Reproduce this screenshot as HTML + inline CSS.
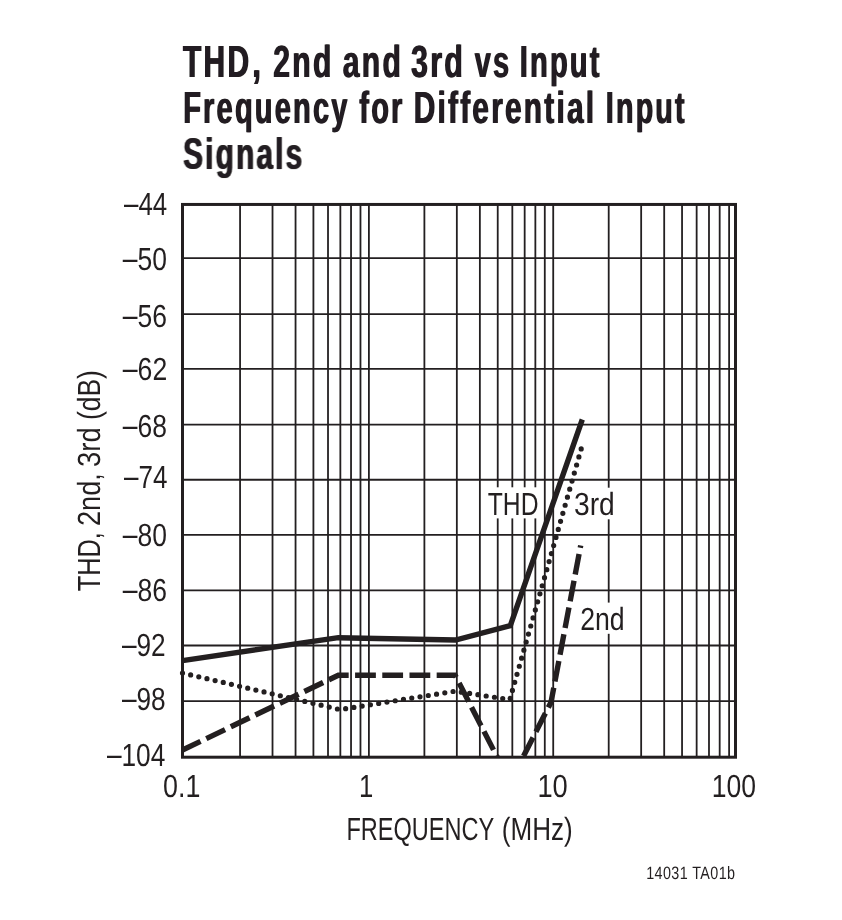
<!DOCTYPE html>
<html lang="en"><head><meta charset="utf-8"><title>THD, 2nd and 3rd vs Input Frequency for Differential Input Signals</title>
<style>html,body{margin:0;padding:0;background:#fff}svg{display:block}text{font-family:"Liberation Sans", sans-serif;fill:#231f20;white-space:pre}</style></head><body>
<svg width="842" height="920" viewBox="0 0 842 920">
<rect width="842" height="920" fill="#fff"/>
<g stroke="#231f20" stroke-width="1.8" fill="none">
<line x1="240.07" y1="204.45" x2="240.07" y2="757.2"/>
<line x1="272.52" y1="204.45" x2="272.52" y2="757.2"/>
<line x1="295.55" y1="204.45" x2="295.55" y2="757.2"/>
<line x1="313.41" y1="204.45" x2="313.41" y2="757.2"/>
<line x1="328.01" y1="204.45" x2="328.01" y2="757.2"/>
<line x1="340.35" y1="204.45" x2="340.35" y2="757.2"/>
<line x1="351.04" y1="204.45" x2="351.04" y2="757.2"/>
<line x1="360.47" y1="204.45" x2="360.47" y2="757.2"/>
<line x1="368.90" y1="204.45" x2="368.90" y2="757.2"/>
<line x1="424.39" y1="204.45" x2="424.39" y2="757.2"/>
<line x1="456.84" y1="204.45" x2="456.84" y2="757.2"/>
<line x1="479.87" y1="204.45" x2="479.87" y2="757.2"/>
<line x1="497.73" y1="204.45" x2="497.73" y2="757.2"/>
<line x1="512.33" y1="204.45" x2="512.33" y2="757.2"/>
<line x1="524.67" y1="204.45" x2="524.67" y2="757.2"/>
<line x1="535.36" y1="204.45" x2="535.36" y2="757.2"/>
<line x1="544.79" y1="204.45" x2="544.79" y2="757.2"/>
<line x1="553.22" y1="204.45" x2="553.22" y2="757.2"/>
<line x1="608.71" y1="204.45" x2="608.71" y2="757.2"/>
<line x1="641.16" y1="204.45" x2="641.16" y2="757.2"/>
<line x1="664.19" y1="204.45" x2="664.19" y2="757.2"/>
<line x1="682.05" y1="204.45" x2="682.05" y2="757.2"/>
<line x1="696.65" y1="204.45" x2="696.65" y2="757.2"/>
<line x1="708.99" y1="204.45" x2="708.99" y2="757.2"/>
<line x1="719.68" y1="204.45" x2="719.68" y2="757.2"/>
<line x1="729.11" y1="204.45" x2="729.11" y2="757.2"/>
<line x1="182.5" y1="258.18" x2="735.5" y2="258.18"/>
<line x1="182.5" y1="314.10" x2="735.5" y2="314.10"/>
<line x1="182.5" y1="368.94" x2="735.5" y2="368.94"/>
<line x1="182.5" y1="424.53" x2="735.5" y2="424.53"/>
<line x1="182.5" y1="479.73" x2="735.5" y2="479.73"/>
<line x1="182.5" y1="534.92" x2="735.5" y2="534.92"/>
<line x1="182.5" y1="590.38" x2="735.5" y2="590.38"/>
<line x1="182.5" y1="645.50" x2="735.5" y2="645.50"/>
<line x1="182.5" y1="701.08" x2="735.5" y2="701.08"/>
</g>
<g fill="#fff">
<rect x="486" y="487.3" width="54.5" height="31.1"/>
<rect x="573" y="487.7" width="42" height="31.6"/>
<rect x="579" y="602.6" width="47" height="31.2"/>
</g>
<rect x="182.5" y="204.45" width="553.0" height="552.75" fill="none" stroke="#231f20" stroke-width="3"/>
<clipPath id="c"><rect x="178" y="203" width="562" height="554"/></clipPath>
<g clip-path="url(#c)" fill="none" stroke="#231f20" stroke-linejoin="miter">
<polyline points="182.50,660.55 338.30,637.70 455.50,640.00 510.30,625.65 582.30,419.50" stroke-width="5.4"/>
<polyline points="182.50,673.00 340.00,709.60 455.00,691.20 509.80,699.60 581.30,448.50" stroke-width="5.2" stroke-linecap="round" stroke-dasharray="0 8.37"/>
<polyline points="182.50,750.00 338.30,675.20 455.10,675.20 508.00,778.10 512.30,778.10 551.00,702.30 580.70,545.50" stroke-width="5.4" stroke-dasharray="20.8 6.4" stroke-dashoffset="0.8"/>
</g>
<defs><filter id="fb" x="-2%" y="-10%" width="104%" height="120%"><feOffset in="SourceGraphic" dx="1" dy="0" result="a"/><feMerge><feMergeNode in="a"/><feMergeNode in="SourceGraphic"/></feMerge></filter></defs>
<g filter="url(#fb)">
<text transform="translate(182.55,77.00) rotate(0.03) scale(0.6656,1)" font-size="45" font-weight="bold" letter-spacing="3.4">THD</text>
<text transform="translate(251.73,77.00) rotate(0.03) scale(0.7000,1)" font-size="45" font-weight="bold" letter-spacing="3.4">, </text>
<text transform="translate(272.75,77.00) rotate(0.03) scale(0.6689,1)" font-size="45" font-weight="bold" letter-spacing="3.4">2nd </text>
<text transform="translate(342.35,77.00) rotate(0.03) scale(0.6678,1)" font-size="45" font-weight="bold" letter-spacing="3.4">and </text>
<text transform="translate(410.50,77.00) rotate(0.03) scale(0.6758,1)" font-size="45" font-weight="bold" letter-spacing="3.4">3rd </text>
<text transform="translate(474.35,77.00) rotate(0.03) scale(0.6421,1)" font-size="45" font-weight="bold" letter-spacing="3.4">vs </text>
<text transform="translate(519.16,77.00) rotate(0.03) scale(0.6467,1)" font-size="45" font-weight="bold" letter-spacing="3.4">Input </text>
<text transform="translate(182.65,123.00) rotate(0.03) scale(0.6453,1)" font-size="45" font-weight="bold" letter-spacing="3.4">Frequency </text>
<text transform="translate(358.78,123.00) rotate(0.03) scale(0.6446,1)" font-size="45" font-weight="bold" letter-spacing="3.4">for </text>
<text transform="translate(413.16,123.00) rotate(0.03) scale(0.6627,1)" font-size="45" font-weight="bold" letter-spacing="3.4">Differential </text>
<text transform="translate(605.37,123.00) rotate(0.03) scale(0.6361,1)" font-size="45" font-weight="bold" letter-spacing="3.4">Input </text>
<text transform="translate(182.65,169.00) rotate(0.03) scale(0.6601,1)" font-size="45" font-weight="bold" letter-spacing="3.4">Signals </text>
</g>
<text transform="translate(124.00,215.00) rotate(0.03) scale(0.8096,1)" font-size="32"><tspan dy="-1.2">–</tspan><tspan dy="1.2">44</tspan></text>
<text transform="translate(122.80,270.00) rotate(0.03) scale(0.8266,1)" font-size="32"><tspan dy="-1.2">–</tspan><tspan dy="1.2">50</tspan></text>
<text transform="translate(122.80,327.00) rotate(0.03) scale(0.8280,1)" font-size="32"><tspan dy="-1.2">–</tspan><tspan dy="1.2">56</tspan></text>
<text transform="translate(122.80,380.00) rotate(0.03) scale(0.8315,1)" font-size="32"><tspan dy="-1.2">–</tspan><tspan dy="1.2">62</tspan></text>
<text transform="translate(122.80,437.00) rotate(0.03) scale(0.8272,1)" font-size="32"><tspan dy="-1.2">–</tspan><tspan dy="1.2">68</tspan></text>
<text transform="translate(124.00,488.00) rotate(0.03) scale(0.8135,1)" font-size="32"><tspan dy="-1.2">–</tspan><tspan dy="1.2">74</tspan></text>
<text transform="translate(122.80,546.00) rotate(0.03) scale(0.8266,1)" font-size="32"><tspan dy="-1.2">–</tspan><tspan dy="1.2">80</tspan></text>
<text transform="translate(122.80,601.00) rotate(0.03) scale(0.8280,1)" font-size="32"><tspan dy="-1.2">–</tspan><tspan dy="1.2">86</tspan></text>
<text transform="translate(121.90,656.00) rotate(0.03) scale(0.8191,1)" font-size="32"><tspan dy="-1.2">–</tspan><tspan dy="1.2">92</tspan></text>
<text transform="translate(121.90,710.00) rotate(0.03) scale(0.8203,1)" font-size="32"><tspan dy="-1.2">–</tspan><tspan dy="1.2">98</tspan></text>
<text transform="translate(106.90,766.00) rotate(0.03) scale(0.8210,1)" font-size="32"><tspan dy="-1.2">–</tspan><tspan dy="1.2">104</tspan></text>
<text transform="translate(163.12,797.00) rotate(0.03) scale(0.8399,1)" font-size="32">0.1</text>
<text transform="translate(358.94,797.00) rotate(0.03) scale(0.8018,1)" font-size="32">1</text>
<text transform="translate(537.41,797.00) rotate(0.03) scale(0.8534,1)" font-size="32">10</text>
<text transform="translate(711.69,797.00) rotate(0.03) scale(0.8289,1)" font-size="32">100</text>
<text transform="translate(646.18,879.00) rotate(0.03) scale(0.7984,1)" font-size="18" letter-spacing="0.5">14031 TA01b</text>
<text transform="translate(487.77,515.00) rotate(0.03) scale(0.7712,1)" font-size="32">THD</text>
<text transform="translate(573.95,515.00) rotate(0.03) scale(0.8827,1)" font-size="32">3rd</text>
<text transform="translate(580.20,630.00) rotate(0.03) scale(0.8335,1)" font-size="32">2nd</text>
<text transform="translate(100.00,591.22) rotate(-89.97) scale(0.7922,1)" font-size="32">THD, </text>
<text transform="translate(100.00,525.96) rotate(-89.97) scale(0.8478,1)" font-size="32">2nd, </text>
<text transform="translate(100.00,466.89) rotate(-89.97) scale(0.8540,1)" font-size="32">3rd </text>
<text transform="translate(100.00,420.00) rotate(-89.97) scale(0.8251,1)" font-size="32">(dB)</text>
<text transform="translate(346.45,840.00) rotate(0.03) scale(0.7355,1)" font-size="32">FREQUENCY </text>
<text transform="translate(501.72,840.00) rotate(0.03) scale(0.8150,1)" font-size="32">(MHz)</text>
</svg></body></html>
